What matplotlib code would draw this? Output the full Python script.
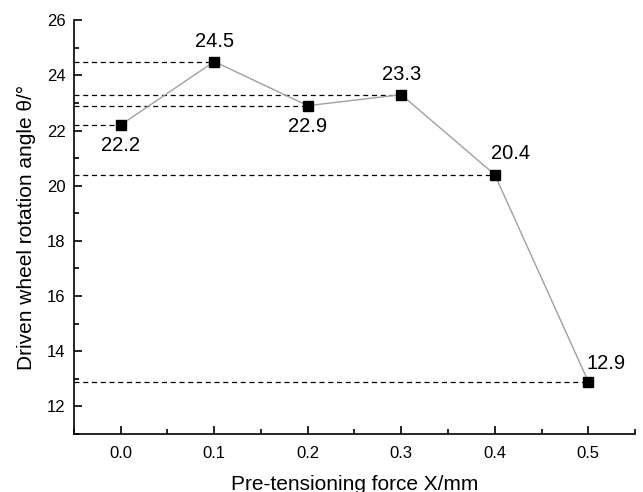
import numpy as np
import matplotlib
matplotlib.use('Agg')
from matplotlib import pyplot as plt
from matplotlib.ticker import MultipleLocator

plt.rcParams['font.family'] = ['Liberation Sans', 'DejaVu Sans']

# data
force = [0.0, 0.1, 0.2, 0.3, 0.4, 0.5]
angle = [22.2, 24.5, 22.9, 23.3, 20.4, 12.9]
labels = ['22.2', '24.5', '22.9', '23.3', '20.4', '12.9']
# label offsets (points)
offsets = [(0, -14.5), (0, 14.5), (0, -15), (0, 14.5), (11.5, 15), (13, 13)]

fig = plt.figure(figsize=(6.43, 4.92), dpi=100)
ax = fig.add_axes([0.115, 0.118, 0.8726, 0.841])

xmin = -0.05
for x, y in zip(force, angle):
    ax.plot([xmin, x], [y, y], 'k--', lw=0.9, dashes=(4, 3))
ax.plot(force, angle, '-', color='#a0a0a0', lw=1.0, zorder=3)
ax.plot(force, angle, 's', color='black', ms=6.5, zorder=4)

for x, y, lab, off in zip(force, angle, labels, offsets):
    ax.annotate(lab, (x, y), xytext=off, textcoords='offset points',
                ha='center', va='center', fontsize=14.5)

ax.set_xlim(xmin, 0.55)
ax.set_ylim(11, 26)
ax.xaxis.set_major_locator(MultipleLocator(0.1))
ax.xaxis.set_minor_locator(MultipleLocator(0.05))
ax.yaxis.set_major_locator(MultipleLocator(2))
ax.yaxis.set_minor_locator(MultipleLocator(1))
ax.xaxis.set_major_formatter(matplotlib.ticker.FormatStrFormatter('%.1f'))
ax.tick_params(which='both', direction='in', labelsize=12, width=1.2)
ax.tick_params(which='major', length=6)
ax.tick_params(which='minor', length=3.5)
ax.tick_params(axis='x', pad=9)
ax.tick_params(axis='y', pad=6)
for s in ['top', 'right']:
    ax.spines[s].set_visible(False)
for s in ['left', 'bottom']:
    ax.spines[s].set_linewidth(1.2)

ax.set_xlabel('Pre-tensioning force X/mm', fontsize=15, labelpad=10)
ax.set_ylabel('Driven wheel rotation angle θ/°', fontsize=15, labelpad=8)

fig.savefig('out.png', dpi=100)
